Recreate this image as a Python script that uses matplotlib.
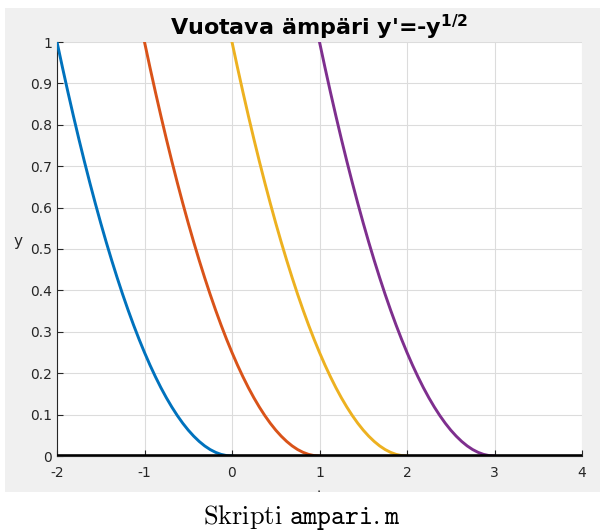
import numpy as np
import matplotlib.pyplot as plt
from matplotlib.patches import Rectangle

plt.rcParams['axes.unicode_minus'] = False

# start time of each emptying curve (y = 1 at start)
start_t = [-2, -1, 0, 1]
colors = ['#0072BD', '#D95319', '#EDB120', '#7E2F8E']

# shape of one emptying curve (time since start, level)
drop_dt = [0, 0.0625, 0.125, 0.1875, 0.25, 0.3125, 0.375, 0.4375, 0.5,
           0.5625, 0.625, 0.6875, 0.75, 0.8125, 0.875, 0.9375, 1.0,
           1.0625, 1.125, 1.1875, 1.25, 1.3125, 1.375, 1.4375, 1.5,
           1.5625, 1.625, 1.6875, 1.75, 1.8125, 1.875, 1.9375, 2.0]
drop_y = [1.0, 0.9385, 0.8789, 0.8213, 0.7656, 0.7119, 0.6602, 0.6104, 0.5625,
          0.5166, 0.4727, 0.4307, 0.3906, 0.3525, 0.3164, 0.2822, 0.25,
          0.2197, 0.1914, 0.1650, 0.1406, 0.1182, 0.0977, 0.0791, 0.0625,
          0.0479, 0.0352, 0.0244, 0.0156, 0.0088, 0.0039, 0.0010, 0.0]

# empty bucket line
zero_t = [-2, 4]
zero_y = [0, 0]

title = "Vuotava ämpäri y'=-y$^{\\mathbf{1/2}}$"
caption = r"$\mathrm{Skripti}\ \mathtt{ampari.m}$"

fig = plt.figure(figsize=(6.04, 5.32), dpi=100)
fig.patch.set_facecolor('white')
W, H = 604, 532
# grey MATLAB figure area
fig.patches.append(Rectangle((5 / W, (H - 492) / H), 595 / W, 484 / H,
                             transform=fig.transFigure, facecolor='#f0f0f0',
                             edgecolor='none', zorder=-10))

ax = fig.add_axes([57 / W, (H - 456) / H, 525 / W, 414 / H])
ax.set_facecolor('white')

for t0, c in zip(start_t, colors):
    ax.plot(np.array(drop_dt) + t0, drop_y, color=c, lw=2.1, zorder=3)
ax.plot(zero_t, zero_y, color='black', lw=2.6, zorder=4)

ax.set_xlim(-2, 4)
ax.set_ylim(0, 1)
ax.set_xticks(range(-2, 5))
yt = np.round(np.arange(0, 1.01, 0.1), 1)
ax.set_yticks(yt)
ax.set_yticklabels(['0'] + [f'{v:g}' for v in yt[1:-1]] + ['1'])
ax.grid(True, color='#dcdcdc', lw=0.8)
ax.set_axisbelow(True)
for s in ['top', 'right']:
    ax.spines[s].set_visible(False)
for s in ['left', 'bottom']:
    ax.spines[s].set_color('#262626')
ax.tick_params(direction='in', length=4, colors='#262626', labelsize=10,
               labelcolor='#262626')
ax.tick_params(axis='x', pad=7)
ax.set_title(title, fontsize=16, fontweight='bold', pad=5,
             math_fontfamily='dejavusans')
ax.set_ylabel('y', fontsize=11, rotation=0, labelpad=2, color='#262626')
ax.yaxis.set_label_coords(-0.075, 0.5)
ax.set_xlabel('t', fontsize=11, color='#262626')
ax.xaxis.set_label_coords(0.5, -0.082)

# white band below the grey area hides the rest of the x label
fig.patches.append(Rectangle((0, 0), 1, (H - 492) / H, transform=fig.transFigure,
                             facecolor='white', edgecolor='none', zorder=5))
fig.text(0.5, (H - 517) / H, caption, ha='center', va='center', fontsize=19,
         math_fontfamily='cm', zorder=6)

fig.savefig('out.png', dpi=100)
